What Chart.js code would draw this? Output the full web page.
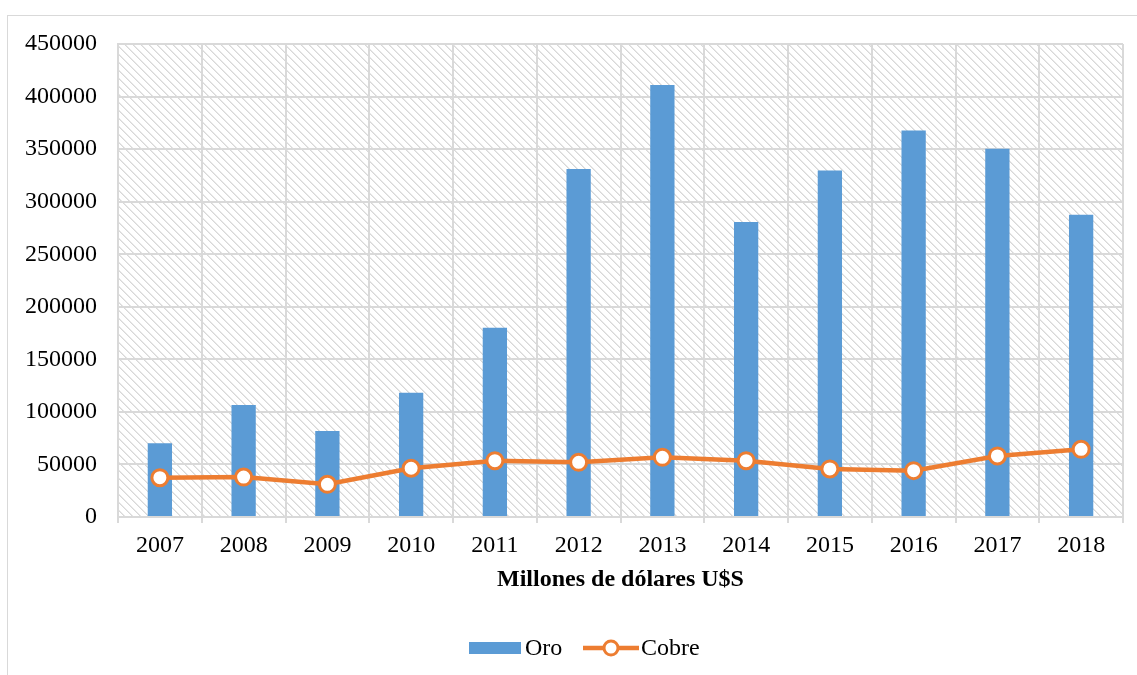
<!DOCTYPE html>
<html>
<head>
<meta charset="utf-8">
<script src="https://cdn.jsdelivr.net/npm/chart.js@4.4.1/dist/chart.umd.min.js"></script>
<style>
  html, body { margin: 0; padding: 0; background: #fff; overflow: hidden; }
  #wrap { position: relative; width: 1137px; height: 675px; }
  #frame { position: absolute; left: 7px; top: 15px; width: 1200px; height: 700px;
           border-left: 1px solid #d9d9d9; border-top: 1px solid #d9d9d9; pointer-events: none; }
  canvas { position: absolute; left: 0; top: 0; }
</style>
</head>
<body>
<div id="wrap">
  <canvas id="chart" width="1137" height="675"></canvas>
  <div id="frame"></div>
</div>
<script>
// Exportaciones mineras (millones de dólares U$S)
const years = ['2007', '2008', '2009', '2010', '2011', '2012', '2013', '2014', '2015', '2016', '2017', '2018'];
const oro = [70200, 106600, 81900, 118300, 180000, 331000, 411000, 280600, 329700, 367800, 350300, 287500];
const cobre = [37400, 38000, 31100, 46400, 53600, 52000, 56800, 53600, 45700, 44100, 58100, 64400];
const yMin = 0;
const yMax = 450000;
const yStep = 50000;
const axisTitle = 'Millones de dólares U$S';

const FONT = "'Liberation Serif', 'Times New Roman', Times, serif";
const BLUE = '#5B9BD5';
const ORANGE = '#ED7D31';
const GRID = '#d9d9d9';

Chart.defaults.font.family = FONT;
Chart.defaults.font.size = 24;
Chart.defaults.color = '#000';

// Diagonal hatch used as the plot-area background
function makeHatch() {
  const c = document.createElement('canvas');
  c.width = 8; c.height = 8;
  const g = c.getContext('2d');
  g.fillStyle = '#ffffff';
  g.fillRect(0, 0, 8, 8);
  for (let y = 0; y < 8; y++) {
    for (let x = 0; x < 8; x++) {
      const d = ((x - y) % 8 + 8) % 8;
      if (d === 0) { g.fillStyle = '#d8d8d8'; g.fillRect(x, y, 1, 1); }
      else if (d === 1) { g.fillStyle = '#e8e8e8'; g.fillRect(x, y, 1, 1); }
    }
  }
  return g.createPattern(c, 'repeat');
}

const hatchBackground = {
  id: 'hatchBackground',
  beforeDraw(chart) {
    const { ctx, chartArea: a } = chart;
    ctx.save();
    ctx.fillStyle = makeHatch();
    ctx.fillRect(a.left, a.top, a.right - a.left, a.bottom - a.top);
    ctx.restore();
  }
};

// Legend drawn under the axis title: bar swatch and line-with-marker swatch
const bottomLegend = {
  id: 'bottomLegend',
  afterDraw(chart) {
    const { ctx } = chart;
    const ds = chart.data.datasets;
    const cy = 648;
    ctx.save();
    ctx.font = '24px ' + FONT;
    ctx.textBaseline = 'middle';

    // Oro
    ctx.fillStyle = ds[0].backgroundColor;
    ctx.fillRect(469, cy - 6, 52, 12);
    ctx.fillStyle = '#000';
    ctx.fillText(ds[0].label, 525, cy + 1);

    // Cobre
    ctx.strokeStyle = ds[1].borderColor;
    ctx.lineWidth = 4.5;
    ctx.beginPath();
    ctx.moveTo(583, cy);
    ctx.lineTo(639, cy);
    ctx.stroke();
    ctx.beginPath();
    ctx.arc(611, cy, 7, 0, Math.PI * 2);
    ctx.fillStyle = '#fff';
    ctx.fill();
    ctx.lineWidth = 3;
    ctx.stroke();
    ctx.fillStyle = '#000';
    ctx.fillText(ds[1].label, 641, cy + 1);
    ctx.restore();
  }
};

new Chart(document.getElementById('chart'), {
  data: {
    labels: years,
    datasets: [
      {
        type: 'bar',
        label: 'Oro',
        data: oro,
        backgroundColor: BLUE,
        borderWidth: 0,
        barPercentage: 0.29,
        categoryPercentage: 1,
        order: 1
      },
      {
        type: 'line',
        label: 'Cobre',
        data: cobre,
        borderColor: ORANGE,
        borderWidth: 4.5,
        tension: 0,
        pointRadius: 8,
        pointBorderWidth: 3,
        pointBackgroundColor: '#fff',
        pointBorderColor: ORANGE,
        order: 0
      }
    ]
  },
  plugins: [hatchBackground, bottomLegend],
  options: {
    responsive: false,
    devicePixelRatio: 1,
    animation: false,
    layout: { padding: { top: 44, right: 14, left: 0, bottom: 0 } },
    plugins: {
      legend: { display: false },
      tooltip: { enabled: false }
    },
    scales: {
      x: {
        offset: true,
        grid: { offset: true, color: GRID, lineWidth: 2, drawTicks: true, tickLength: 6, tickColor: GRID },
        border: { color: GRID, width: 2 },
        ticks: { padding: 8, font: { size: 24 } },
        title: {
          display: true,
          text: axisTitle,
          font: { size: 24, weight: 'bold' },
          padding: { top: 0, bottom: 81 }
        },
        afterFit(scale) { scale.height = 158; }
      },
      y: {
        min: yMin,
        max: yMax,
        grid: { color: GRID, lineWidth: 2, drawTicks: false },
        border: { color: GRID, width: 2 },
        ticks: {
          stepSize: yStep,
          padding: 21,
          font: { size: 24 },
          callback: (v) => String(v)
        },
        afterFit(scale) { scale.width = 118; }
      }
    }
  }
});
</script>
</body>
</html>
